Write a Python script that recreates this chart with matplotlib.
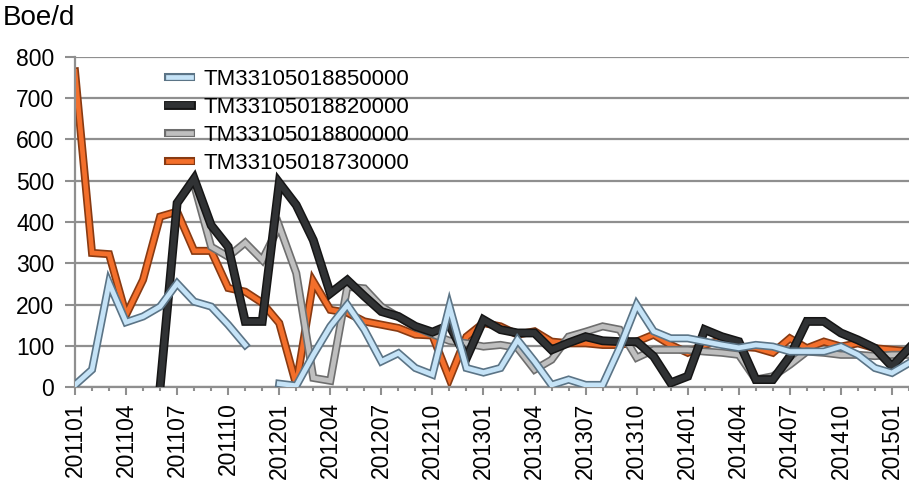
import numpy as np
import matplotlib
matplotlib.use("Agg")
import matplotlib.pyplot as plt
import matplotlib.patheffects as pe

plt.rcParams['font.family'] = ['Liberation Sans', 'DejaVu Sans']

# months 201101 .. 201502
months = [f"{y}{m:02d}" for y in range(2011, 2016) for m in range(1, 13)][:50]

nan = np.nan
# Boe/d per well
w850 = [5, 42, 252, 157, 171, 195, 251, 207, 195, 151, 102, nan, 8, 3, 78, 147, 199, 139, 62, 82,
        46, 30, 195, 46, 35, 46, 114, 62, 5, 18, 5, 5, 95, 199, 135, 118, 118, 110, 102, 95,
        102, 98, 86, 86, 86, 98, 78, 46, 34, 58]
w820 = [nan, nan, nan, nan, nan, 0, 446, 505, 392, 340, 159, 159, 495, 441, 356, 227, 259, 220, 183, 171,
        147, 133, 150, 70, 163, 139, 131, 131, 90, 107, 122, 112, 110, 110, 74, 10, 26, 139, 122, 110,
        18, 18, 74, 159, 159, 131, 114, 94, 50, 94]
w800 = [nan, nan, nan, nan, nan, nan, nan, 490, 340, 316, 350, 308, 390, 276, 22, 15, 243, 239, 195, 170,
        145, 128, 112, 106, 98, 102, 95, 42, 66, 122, 134, 147, 139, 71, 90, 90, 90, 86, 83, 78,
        18, 26, 54, 86, 83, 78, 78, 75, 78, 78]
w730 = [765, 325, 322, 175, 260, 413, 425, 330, 330, 240, 231, 204, 155, 5, 256, 187, 180, 159, 151, 143,
        127, 125, 20, 122, 155, 147, 127, 135, 110, 106, 106, 102, 102, 110, 127, 102, 83, 102, 114, 98,
        95, 83, 118, 94, 110, 98, 106, 94, 90, 86]

series = [
    ("TM33105018850000", w850, '#c5e3f7', '#5b7486', 3.4, 5.8, 6),
    ("TM33105018820000", w820, '#303234', '#151515', 4.2, 6.4, 5),
    ("TM33105018800000", w800, '#bfbfbf', '#6e6e6e', 3.4, 5.8, 3),
    ("TM33105018730000", w730, '#f36f2b', '#883a12', 3.4, 5.8, 2),
]

fig = plt.figure(figsize=(9.09, 4.9), dpi=100)
ax = fig.add_axes([75 / 909, 103 / 490, 834 / 909, 330 / 490])

x = np.arange(len(months))
for name, vals, inner, outer, lw, lwo, z in series:
    ax.plot(x, vals, color=inner, lw=lw, label=name, zorder=z, solid_joinstyle='miter',
            path_effects=[pe.Stroke(linewidth=lwo, foreground=outer), pe.Normal()])

gc = '#8f8f8f'
ax.set_xlim(0, len(months) - 1)
ax.set_ylim(0, 800)
ax.set_yticks(range(0, 801, 100))
ax.yaxis.grid(True, color=gc, lw=1.6, zorder=0)
ax.set_axisbelow(True)

ax.set_xticks(x[::3])
ax.set_xticklabels(months[::3], rotation=90)
ax.set_xticks(x, minor=True)

for s in ['top', 'right']:
    ax.spines[s].set_visible(False)
for s in ['left', 'bottom']:
    ax.spines[s].set_color(gc)
    ax.spines[s].set_linewidth(1.6)

ax.tick_params(axis='y', length=7, width=1.5, color=gc, pad=8, labelsize=16.5)
ax.tick_params(axis='x', which='major', length=6, width=1.5, color=gc, pad=5, labelsize=16.5)
ax.tick_params(axis='x', which='minor', length=3, width=1.5, color=gc)

fig.text(0.003, 1 - 5 / 490, "Boe/d", fontsize=20, va='top', ha='left')

ax.legend(loc='upper left', bbox_to_anchor=(0.112, 0.965), frameon=False, fontsize=16,
          handlelength=1.0, handletextpad=0.6, labelspacing=0.32, borderaxespad=0, borderpad=0)

fig.savefig("out.png", dpi=100)
